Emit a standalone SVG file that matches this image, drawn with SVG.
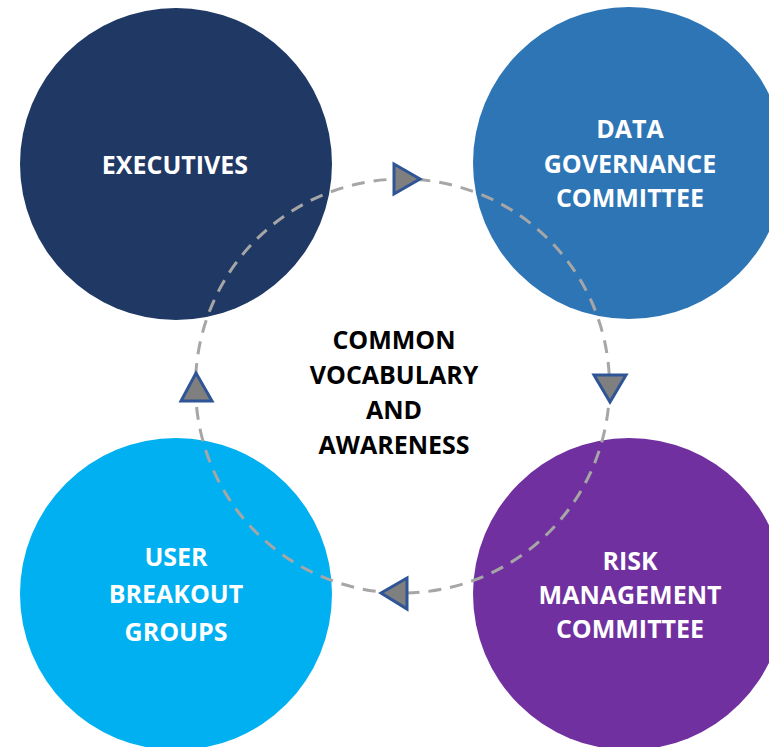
<svg xmlns="http://www.w3.org/2000/svg" width="769" height="747" viewBox="0 0 769 747">
<style>
.lbl{font-family:"Open Sans","Liberation Sans",Arial,sans-serif;font-weight:bold;font-size:25px;fill:#ffffff;text-anchor:middle}
.ctr{font-family:"Open Sans","Liberation Sans",Arial,sans-serif;font-weight:bold;font-size:25px;fill:#000000;text-anchor:middle}
.arr{fill:#7f7f7f;stroke:#2f5597;stroke-width:3;stroke-linejoin:miter}
</style>
<rect width="769" height="747" fill="#ffffff"/>
<g id="executives">
<circle cx="176" cy="164" r="156" fill="#1f3864"/>
<text class="lbl" x="175" y="174">EXECUTIVES</text>
</g>
<g id="data-governance">
<circle cx="629" cy="163" r="156" fill="#2e75b6"/>
<text class="lbl" x="630" y="138">DATA</text>
<text class="lbl" x="630" y="173">GOVERNANCE</text>
<text class="lbl" x="630" y="207">COMMITTEE</text>
</g>
<g id="user-breakout">
<circle cx="176" cy="594" r="156" fill="#00b0f0"/>
<text class="lbl" x="176" y="566">USER</text>
<text class="lbl" x="176" y="603">BREAKOUT</text>
<text class="lbl" x="176" y="641">GROUPS</text>
</g>
<g id="risk-management">
<circle cx="629" cy="594" r="156" fill="#7030a0"/>
<text class="lbl" x="630" y="570">RISK</text>
<text class="lbl" x="630" y="604">MANAGEMENT</text>
<text class="lbl" x="630" y="638">COMMITTEE</text>
</g>
<g id="connectors">
<circle cx="402.5" cy="386" r="207" fill="none" stroke="#a6a6a6" stroke-width="3" stroke-dasharray="13 9"/>
<polygon class="arr" points="394,164 394,194 420,179"/>
<polygon class="arr" points="594,375 626,375 610,402"/>
<polygon class="arr" points="407,578 407,609 381,593"/>
<polygon class="arr" points="181,401 212,401 196,373"/>
</g>
<g id="center">
<text class="ctr" x="394" y="349">COMMON</text>
<text class="ctr" x="394" y="384">VOCABULARY</text>
<text class="ctr" x="394" y="419">AND</text>
<text class="ctr" x="394" y="454">AWARENESS</text>
</g>
</svg>
